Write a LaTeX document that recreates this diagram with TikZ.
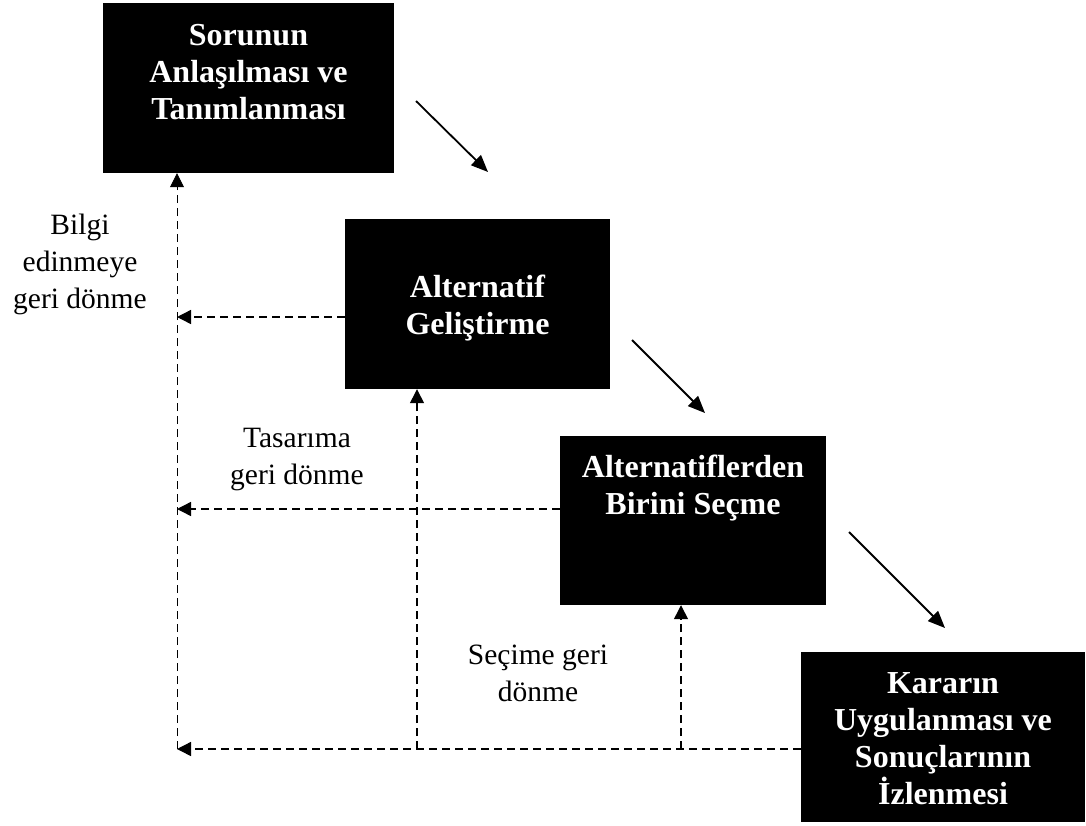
\documentclass[tikz,border=0pt]{standalone}
\usepackage{fontspec}
\setmainfont{Liberation Serif}
\usetikzlibrary{arrows.meta}

\tikzset{
  box/.style={fill=black, draw=none, inner sep=0pt},
  boxtext/.style={anchor=north, align=center, inner sep=0pt, text=white,
    font=\fontsize{32}{37}\selectfont\bfseries},
  note/.style={anchor=north, align=center, inner sep=0pt, text=black,
    font=\fontsize{29.5}{37}\selectfont},
  flow/.style={line width=1.8pt, -{Triangle[length=17pt,width=14pt]}},
  back/.style={line width=1.4pt, dash pattern=on 8pt off 5pt,
    -{Triangle[length=14pt,width=14pt]}},
  backthin/.style={back, line width=0.8pt},
  backplain/.style={line width=1.4pt, dash pattern=on 8pt off 5pt},
}
\newcommand{\firstline}[1]{\rule{0pt}{#1}}

\begin{document}
\begin{tikzpicture}[x=1pt, y=-1pt]
  \useasboundingbox (0,0) rectangle (1086,825);

  % process boxes
  \node[box, minimum width=291pt, minimum height=170pt] (b1) at (248.5,88) {};
  \node[box, minimum width=265pt, minimum height=170pt] (b2) at (477.5,304) {};
  \node[box, minimum width=266pt, minimum height=169pt] (b3) at (693,520.5) {};
  \node[box, minimum width=284pt, minimum height=170pt] (b4) at (943,737) {};

  % box titles
  \node[boxtext] (t1) at (248.5,21) {\firstline{24pt}Sorunun\\Anlaşılması ve\\Tanımlanması};
  \node[boxtext] (t2) at (477.5,273) {\firstline{24pt}Alternatif\\Geliştirme};
  \node[boxtext] (t3) at (693,453) {\firstline{24pt}Alternatiflerden\\Birini Seçme};
  \node[boxtext] (t4) at (943,669) {\firstline{24pt}Kararın\\Uygulanması ve\\Sonuçlarının\\İzlenmesi};

  % feedback labels
  \node[note] (n1) at (80,212.5) {\firstline{22pt}Bilgi\\edinmeye\\geri dönme};
  \node[note] (n2) at (297,425.5) {\firstline{22pt}Tasarıma\\geri dönme};
  \node[note] (n3) at (538,642.5) {\firstline{22pt}Seçime geri\\dönme};

  % forward arrows between stages
  \coordinate (f1s) at (416,101);  \coordinate (f1e) at (488,172);
  \coordinate (f2s) at (632,340);  \coordinate (f2e) at (705,413);
  \coordinate (f3s) at (849,532);  \coordinate (f3e) at (945,628);
  \draw[flow] (f1s) -- (f1e);
  \draw[flow] (f2s) -- (f2e);
  \draw[flow] (f3s) -- (f3e);

  % feedback network
  \coordinate (l1) at (177,317);
  \coordinate (l2) at (177,509);
  \coordinate (l3) at (177,749);
  \coordinate (j2) at (417,749);
  \coordinate (j3) at (681,749);

  \draw[back] (b4.west |- l3) -- (l3);
  \draw[backthin] (l3) -- (b1.south -| l3);
  \draw[back] (j2) -- (b2.south -| j2);
  \draw[back] (j3) -- (b3.south -| j3);
  \draw[back] (b2.west |- l1) -- (l1);
  \draw[back] (b3.west |- l2) -- (l2);
\end{tikzpicture}
\end{document}
